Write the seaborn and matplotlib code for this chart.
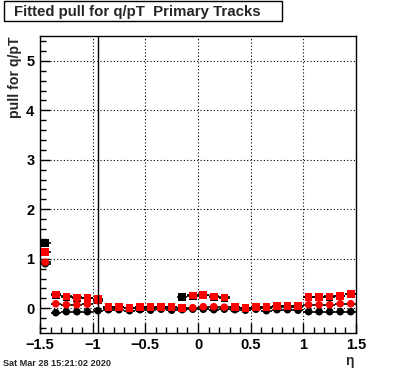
import numpy as np
import pandas as pd
import matplotlib
matplotlib.use("Agg")
import matplotlib.pyplot as plt
from matplotlib.ticker import MultipleLocator, FuncFormatter
import seaborn as sns

# eta bin centres (30 bins, width 0.1)
eta = [-1.45, -1.35, -1.25, -1.15, -1.05, -0.95, -0.85, -0.75, -0.65, -0.55,
       -0.45, -0.35, -0.25, -0.15, -0.05, 0.05, 0.15, 0.25, 0.35, 0.45,
       0.55, 0.65, 0.75, 0.85, 0.95, 1.05, 1.15, 1.25, 1.35, 1.45]

black_sq = [1.32, 0.26, 0.23, 0.21, 0.20, 0.17, 0.01, 0.02, 0.00, 0.01,
            0.01, 0.02, 0.00, 0.23, 0.25, 0.26, 0.23, 0.21, 0.01, 0.00,
            0.02, 0.01, 0.03, 0.03, 0.02, 0.22, 0.22, 0.23, 0.24, 0.28]
red_sq = [1.13, 0.28, 0.24, 0.22, 0.21, 0.18, 0.02, 0.03, 0.01, 0.02,
          0.02, 0.03, 0.02, 0.00, 0.26, 0.27, 0.24, 0.22, 0.02, 0.00,
          0.03, 0.02, 0.04, 0.04, 0.04, 0.23, 0.23, 0.24, 0.25, 0.29]
black_ci = [0.90, -0.09, -0.07, -0.07, -0.07, -0.05, -0.03, -0.03, -0.05, -0.03,
            -0.04, -0.02, -0.04, -0.03, -0.02, -0.02, -0.03, -0.02, -0.03, -0.04,
            -0.02, -0.05, -0.03, -0.03, -0.04, -0.07, -0.07, -0.07, -0.07, -0.07]
red_ci = [0.93, 0.09, 0.07, 0.07, 0.08, 0.15, 0.02, 0.03, 0.01, 0.02,
          0.02, 0.03, 0.02, 0.00, 0.01, 0.03, 0.03, 0.02, 0.02, 0.00,
          0.03, 0.02, 0.04, 0.04, 0.04, 0.07, 0.07, 0.07, 0.09, 0.09]

sns.set_style("ticks")
plt.rcParams['font.family'] = ['Liberation Sans', 'DejaVu Sans']
plt.rcParams['font.weight'] = 'bold'

fig = plt.figure(figsize=(3.96, 3.72), dpi=100)
ax = fig.add_axes([0.101, 0.105, 0.798, 0.798])

series = [("bs", black_sq, "black", "s"), ("bc", black_ci, "black", "o"),
          ("rs", red_sq, "red", "s"), ("rc", red_ci, "red", "o")]

for name, vals, col, mk in series:
    ax.errorbar(eta, vals, xerr=0.05, yerr=0.02, fmt="none", ecolor="black",
                elinewidth=1.2, capsize=0, zorder=2)

for name, vals, col, mk in series:
    df = pd.DataFrame({"eta": eta, "pull": vals})
    sns.scatterplot(data=df, x="eta", y="pull", ax=ax, color=col, marker=mk,
                    s=30, edgecolor="none", linewidth=0, zorder=3)

ax.axvline(-0.95, color="black", lw=1, zorder=4)

ax.set_xlim(-1.5, 1.5)
ax.set_ylim(-0.5, 5.5)
ax.xaxis.set_major_locator(MultipleLocator(0.5))
ax.xaxis.set_minor_locator(MultipleLocator(0.1))
ax.yaxis.set_major_locator(MultipleLocator(1))
ax.yaxis.set_minor_locator(MultipleLocator(0.2))
fmt = FuncFormatter(lambda v, p: ("%g" % round(v, 3)).replace("-", "\u2212"))
ax.xaxis.set_major_formatter(fmt)
ax.yaxis.set_major_formatter(fmt)
ax.grid(True, which="major", color="black", linestyle=(0, (1, 2)), linewidth=0.8)
ax.tick_params(which="both", direction="in", top=False, right=False,
               labelsize=10.5, colors="black", pad=4)
ax.tick_params(which="major", length=7, width=1)
ax.tick_params(which="minor", length=4, width=1)
for lab in ax.get_xticklabels() + ax.get_yticklabels():
    lab.set_fontweight("bold")
for sp in ax.spines.values():
    sp.set_color("black")
    sp.set_linewidth(1)

ax.set_xlabel("")
ax.set_ylabel("")
fig.text(0.038, 0.903, "pull for q/pT", rotation=90, ha="center", va="top",
         fontsize=10.2, fontweight="bold")
fig.text(0.893, 0.012, "η", ha="right", va="bottom", fontsize=10)
fig.text(0.008, 0.012, "Sat Mar 28 15:21:02 2020", ha="left", va="bottom",
         fontsize=6.6, fontweight="bold")

fig.text(0.035, 0.969, "Fitted pull for q/pT  Primary Tracks", ha="left",
         va="center", fontsize=10.8, fontweight="bold")
fig.patches.append(plt.Rectangle((0.010, 0.943), 0.702, 0.054, transform=fig.transFigure,
                                 fill=False, edgecolor="black", linewidth=1))

fig.savefig("out.png", dpi=100)
